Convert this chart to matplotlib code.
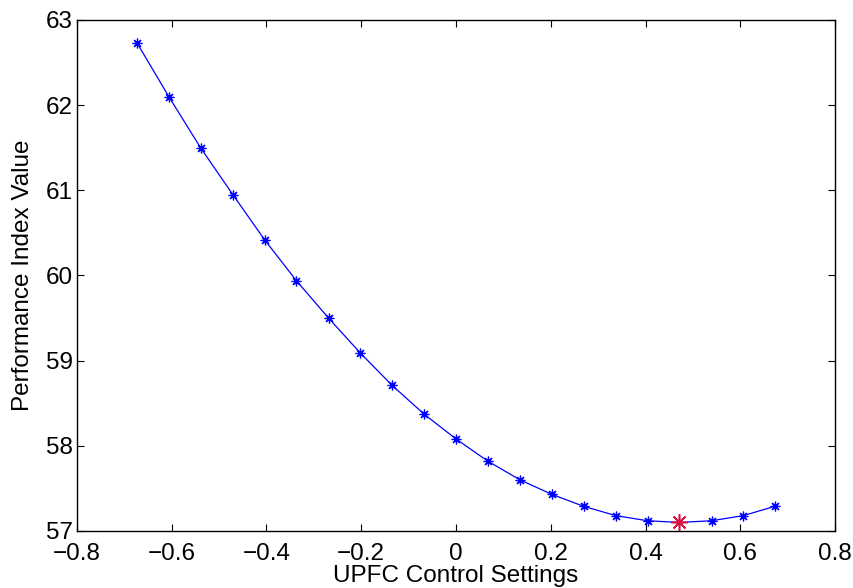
import matplotlib
matplotlib.use("Agg")
import matplotlib.pyplot as plt

# UPFC control setting sweep and resulting performance index
settings = [-0.673, -0.606, -0.539, -0.471, -0.404, -0.337, -0.269, -0.202,
            -0.135, -0.067, 0.0, 0.067, 0.135, 0.202, 0.269, 0.337,
            0.404, 0.471, 0.539, 0.606, 0.673]
pi_value = [62.73, 62.10, 61.50, 60.95, 60.42, 59.94, 59.50, 59.09,
            58.71, 58.37, 58.08, 57.82, 57.60, 57.43, 57.29, 57.18,
            57.12, 57.10, 57.12, 57.18, 57.29]
best_setting = 0.471
best_value = 57.10

xticks = [-0.8, -0.6, -0.4, -0.2, 0, 0.2, 0.4, 0.6, 0.8]
xtick_labels = ["\u22120.8", "\u22120.6", "\u22120.4", "\u22120.2", "0",
                "0.2", "0.4", "0.6", "0.8"]
yticks = [57, 58, 59, 60, 61, 62, 63]

plt.rcParams["font.family"] = ["Liberation Sans", "DejaVu Sans"]

fig = plt.figure(figsize=(8.54, 5.88), dpi=100)
ax = fig.add_axes([0.090, 0.097, 0.888, 0.869])

asterisk = (8, 2, 0)
ax.plot(settings, pi_value, color="blue", linewidth=0.9,
        marker=asterisk, markersize=7, markeredgewidth=0.9)
ax.plot([best_setting], [best_value], linestyle="none", marker=asterisk,
        color="#e0103a", markersize=12, markeredgewidth=1.1)

ax.set_xlim(-0.8, 0.8)
ax.set_ylim(57, 63)
ax.set_xticks(xticks)
ax.set_xticklabels(xtick_labels)
ax.set_yticks(yticks)
ax.tick_params(direction="in", length=5, width=0.8, labelsize=17.5,
               top=True, right=True)
ax.tick_params(axis="x", pad=9)
ax.tick_params(axis="y", pad=3)
for s in ax.spines.values():
    s.set_linewidth(1.0)

ax.set_xlabel("UPFC Control Settings", fontsize=17.5, labelpad=0)
ax.set_ylabel("Performance Index Value", fontsize=17.5, labelpad=8)

fig.savefig("out.png", dpi=100)
